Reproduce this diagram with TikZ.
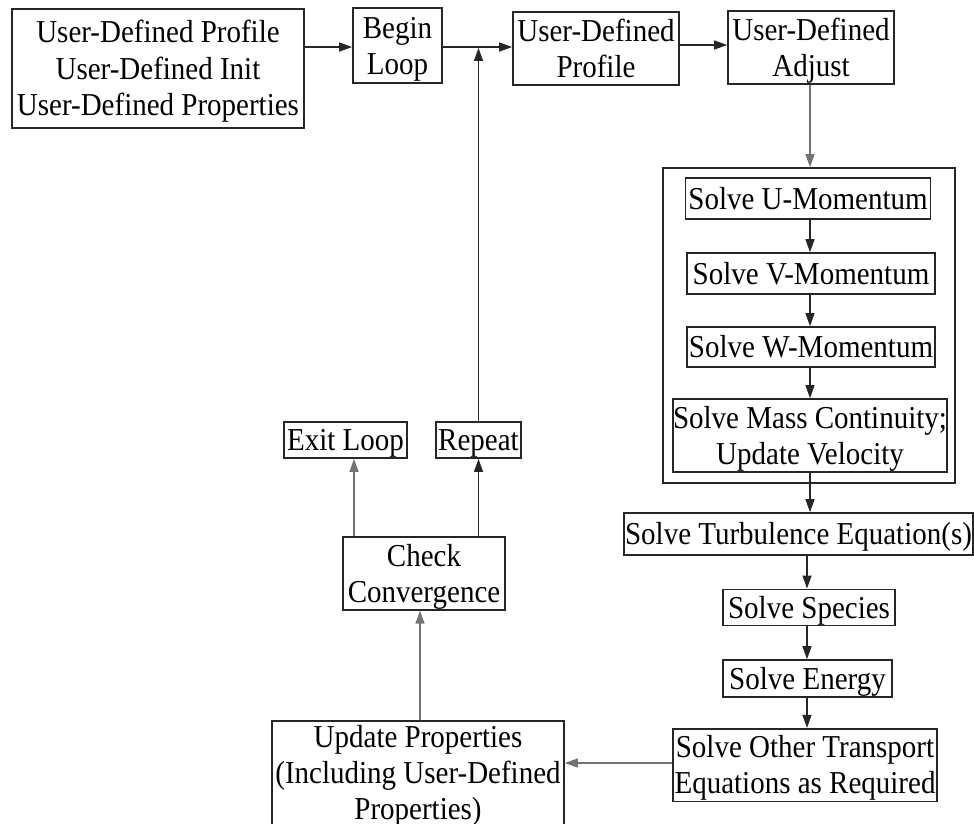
\documentclass[tikz,border=0pt]{standalone}
\usepackage{fontspec}
\usepackage{graphicx}
\setmainfont{Liberation Serif}
\usetikzlibrary{arrows.meta}
\newcommand{\vt}[2][-3.5pt]{\raisebox{#1}[\height][\depth]{\scalebox{1}[1.1]{\begin{tabular}{@{}c@{}}#2\end{tabular}}}}
\begin{document}
\begin{tikzpicture}[x=1pt,y=-1pt,
  box/.style={draw=black!85, line width=1.6pt, fill=white, rectangle, inner sep=0pt,
    align=center, font=\fontsize{29}{33}\selectfont},
  arr/.style={-{Triangle[length=13pt,width=9pt]}, line width=1.3pt, draw=black!85},
  garr/.style={arr, draw=black!55}]
\useasboundingbox (0,0) rectangle (974,824);
\clip (0,0) rectangle (974,824);
% group frame
\node[draw=black!85, line width=1.6pt, rectangle, inner sep=0pt, minimum width=292pt, minimum height=315pt] (G) at (809,325.5) {};
% top row
\node[box, minimum width=292pt, minimum height=119pt] (A) at (158,68.5) {\vt{User-Defined Profile\\User-Defined Init\\User-Defined Properties}};
\node[box, minimum width=89pt, minimum height=75pt] (B) at (397.5,45.5) {\vt{Begin\\Loop}};
\node[box, minimum width=166pt, minimum height=73pt] (C) at (596,48.5) {\vt{User-Defined\\Profile}};
\node[box, minimum width=166pt, minimum height=73pt] (D) at (811,47.5) {\vt{User-Defined\\Adjust}};
% inner solve boxes
\node[box, minimum width=245pt, minimum height=41pt] (U) at (808,198.5) {\vt{Solve U-Momentum}};
\node[box, minimum width=248pt, minimum height=41pt] (V) at (811,273.5) {\vt{Solve V-Momentum}};
\node[box, minimum width=248pt, minimum height=40pt] (W) at (811,347) {\vt{Solve W-Momentum}};
\node[box, minimum width=274pt, minimum height=73pt] (M) at (810,435.5) {\vt{Solve Mass Continuity;\\Update Velocity}};
% lower right chain
\node[box, minimum width=349pt, minimum height=42pt] (T) at (798.5,534) {\vt{Solve Turbulence Equation(s)}};
\node[box, minimum width=172pt, minimum height=35pt] (S) at (809,607.5) {\vt{Solve Species}};
\node[box, minimum width=169pt, minimum height=37pt] (E) at (807.5,678.5) {\vt{Solve Energy}};
\node[box, minimum width=264pt, minimum height=72pt] (O) at (805,765) {\vt{Solve Other Transport\\Equations as Required}};
% left bottom
\node[box, anchor=north, minimum width=292pt, inner ysep=1pt] (Up) at (418,720) {\vt[0pt]{Update Properties\\(Including User-Defined\\Properties)}};
\node[box, minimum width=162pt, minimum height=71pt] (Ch) at (424,573.5) {\vt{Check\\Convergence}};
\node[box, minimum width=123pt, minimum height=34pt] (Ex) at (345.5,440) {\vt{Exit Loop}};
\node[box, minimum width=85pt, minimum height=34pt] (Re) at (478.5,440) {\vt{Repeat}};
% connectors
\draw[arr] (A.east |- 0,47) -- (B.west |- 0,47);
\draw[arr] (B.east |- 0,47) -- (C.west |- 0,47);
\draw[arr] (C.east |- 0,45) -- (D.west |- 0,45);
\draw[garr] (D.south -| 810,0) -- (G.north -| 810,0);
\draw[arr] (U.south -| 810,0) -- (V.north -| 810,0);
\draw[arr] (V.south -| 810,0) -- (W.north -| 810,0);
\draw[arr] (W.south -| 810,0) -- (M.north -| 810,0);
\draw[arr] (M.south -| 810,0) -- (T.north -| 810,0);
\draw[arr] (T.south -| 807,0) -- (S.north -| 807,0);
\draw[arr] (S.south -| 807,0) -- (E.north -| 807,0);
\draw[arr] (E.south -| 807,0) -- (O.north -| 807,0);
\draw[garr] (O.west |- 0,763) -- (Up.east |- 0,763);
\draw[garr] (Up.north -| 420,0) -- (Ch.south -| 420,0);
\draw[garr] (Ch.north -| 354,0) -- (Ex.south -| 354,0);
\draw[arr] (Ch.north -| Re.south) -- (Re.south);
\draw[arr] (Re.north) -- (Re.north |- 0,48);
\end{tikzpicture}
\end{document}
